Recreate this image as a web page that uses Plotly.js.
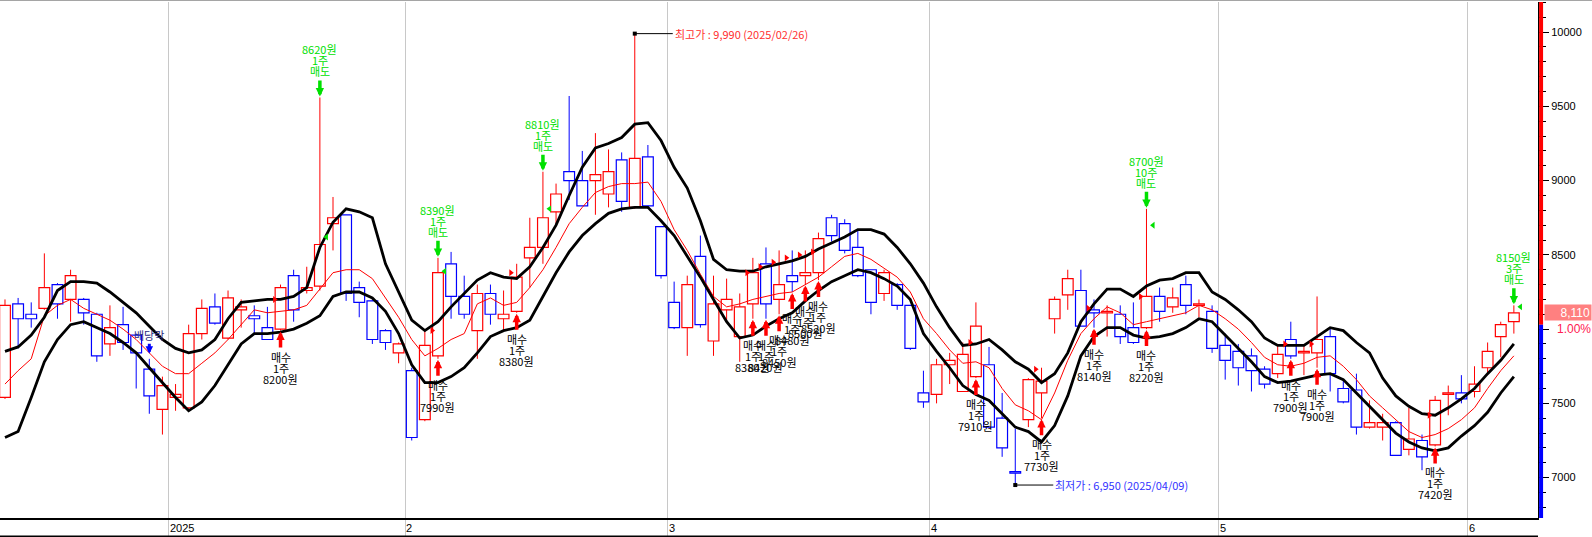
<!DOCTYPE html>
<html><head><meta charset="utf-8">
<script src="https://cdn.plot.ly/plotly-3.0.1.min.js"></script>
<style>html,body{margin:0;padding:0;background:#fff;}#chart{width:1592px;height:537px;}</style>
</head><body><div id="chart"></div>
<script>
const dates = [
"2024-12-11","2024-12-12","2024-12-13","2024-12-16","2024-12-17","2024-12-18","2024-12-19","2024-12-20","2024-12-23","2024-12-24","2024-12-26","2024-12-27","2024-12-30",
"2025-01-02","2025-01-03","2025-01-06","2025-01-07","2025-01-08","2025-01-09","2025-01-10","2025-01-13","2025-01-14","2025-01-15","2025-01-16","2025-01-17","2025-01-20","2025-01-21","2025-01-22","2025-01-23","2025-01-24","2025-01-31",
"2025-02-03","2025-02-04","2025-02-05","2025-02-06","2025-02-07","2025-02-10","2025-02-11","2025-02-12","2025-02-13","2025-02-14","2025-02-17","2025-02-18","2025-02-19","2025-02-20","2025-02-21","2025-02-24","2025-02-25","2025-02-26","2025-02-27","2025-02-28",
"2025-03-04","2025-03-05","2025-03-06","2025-03-07","2025-03-10","2025-03-11","2025-03-12","2025-03-13","2025-03-14","2025-03-17","2025-03-18","2025-03-19","2025-03-20","2025-03-21","2025-03-24","2025-03-25","2025-03-26","2025-03-27","2025-03-28","2025-03-31",
"2025-04-01","2025-04-02","2025-04-03","2025-04-04","2025-04-07","2025-04-08","2025-04-09","2025-04-10","2025-04-11","2025-04-14","2025-04-15","2025-04-16","2025-04-17","2025-04-18","2025-04-21","2025-04-22","2025-04-23","2025-04-24","2025-04-25","2025-04-28","2025-04-29","2025-04-30",
"2025-05-02","2025-05-07","2025-05-08","2025-05-09","2025-05-12","2025-05-13","2025-05-14","2025-05-15","2025-05-16","2025-05-19","2025-05-20","2025-05-21","2025-05-22","2025-05-23","2025-05-26","2025-05-27","2025-05-28","2025-05-29","2025-05-30",
"2025-06-02","2025-06-04","2025-06-05","2025-06-09"];

const openPrice = [
7540,8170,8100,8140,8300,8200,8200,8100,7900,8030,
7960,7730,7460,7540,7470,7970,8150,7940,8130,8090,
8010,8000,8360,8260,8290,8710,8770,8280,8190,7990,
7840,7720,7390,7820,8440,8220,7990,8240,8070,8120,
8480,8550,8790,9060,9000,9000,8910,9140,8820,9160,
8690,8180,8010,8490,7920,8130,7950,8170,8440,8200,
8360,8360,8380,8750,8710,8550,8400,8240,8300,8160,
7570,7560,7760,7580,7680,7760,7400,7040,7390,7570,
8070,8230,8260,8130,8110,8100,8010,8010,8220,8150,
8300,8160,8120,7890,7850,7820,7730,7700,7930,7840,
7840,7950,7600,7590,7340,7340,7370,7190,7250,7220,
7560,7570,7580,7740,7950,8050];
const highPrice = [
8200,8210,8180,8510,8310,8400,8210,8110,8160,8150,
7970,7800,7680,7630,8030,8200,8240,8260,8200,8160,
8150,8300,8400,8420,9560,8890,8770,8320,8200,8000,
7910,7740,7990,8480,8520,8360,8300,8300,8260,8440,
8750,9060,8980,9570,9200,9320,9210,9190,9990,9240,
8690,8320,8360,8630,8360,8340,8240,8480,8550,8530,
8530,8530,8650,8770,8740,8670,8400,8400,8310,8160,
7720,7800,7840,7910,8180,7880,7570,7330,7670,7740,
8220,8400,8400,8200,8160,8160,8180,8810,8280,8280,
8360,8200,8160,7970,7900,7870,7750,7900,8050,7900,
8220,8010,7660,7700,7520,7430,7380,7470,7290,7550,
7620,7690,7750,7910,8050,8160];
const lowPrice = [
7530,7870,8010,8130,8070,8050,8030,7780,7820,7860,
7600,7430,7290,7450,7450,7930,8030,7930,8010,7970,
7930,7990,8050,8240,8260,8530,8190,8080,7900,7860,
7770,7250,7380,7800,8070,8070,7800,8030,7990,8110,
8280,8440,8710,8870,8830,8770,8820,8790,8810,8810,
8340,8000,7820,8010,7820,8050,7780,8070,8070,8100,
8250,8300,8330,8590,8510,8350,8100,8190,8130,7860,
7470,7500,7630,7580,7670,7340,7140,6950,7340,7400,
7970,8130,8020,8010,7950,7900,7900,8000,8050,8110,
8100,8080,7840,7660,7620,7580,7600,7670,7800,7690,
7740,7580,7500,7290,7330,7250,7150,7150,7050,7210,
7420,7500,7540,7690,7810,7970];
const closePrice = [
8160,8070,8070,8280,8170,8360,8110,7820,8010,7910,
7840,7550,7620,7560,7970,8140,8040,8210,8150,8070,
7930,8280,8130,8280,8570,8750,8240,8180,7930,7910,
7900,7270,7890,8380,8220,8100,8240,8100,8100,8350,
8550,8750,8910,9000,8830,9040,9060,8860,9150,8830,
8360,8010,8300,8030,8170,8200,8150,8380,8170,8300,
8320,8380,8610,8630,8530,8360,8180,8380,8160,7870,
7510,7760,7790,7830,8020,7340,7200,7030,7660,7650,
8200,8340,8020,8110,8120,7950,7910,8220,8120,8210,
8160,8170,7870,7790,7740,7720,7630,7830,7820,7850,
7930,7700,7510,7340,7370,7370,7150,7260,7140,7520,
7570,7530,7630,7850,8030,8110];

const upperBand = [
7850,7880,7960,8080,8260,8320,8320,8310,8250,8180,
8110,8020,7930,7870,7840,7860,7930,8070,8180,8190,
8200,8200,8220,8280,8550,8720,8810,8790,8750,8440,
8250,8060,7990,8050,8150,8240,8330,8380,8350,8340,
8420,8550,8700,8900,9090,9220,9250,9290,9380,9390,
9270,9090,8950,8730,8470,8400,8390,8390,8420,8440,
8460,8490,8540,8580,8620,8670,8670,8640,8550,8440,
8310,8150,8010,7890,7900,7930,7860,7780,7730,7640,
7700,7840,8050,8170,8270,8270,8220,8290,8330,8340,
8380,8380,8250,8200,8130,8050,7940,7890,7890,7890,
7950,8010,7990,7910,7840,7670,7550,7480,7430,7420,
7470,7530,7600,7700,7790,7900];
const middleLine = [
7630,7720,7800,8090,8160,8200,8140,8100,8060,8000,
7930,7840,7750,7700,7700,7770,7840,7930,8030,8130,
8110,8120,8130,8160,8270,8380,8400,8400,8340,8210,
8080,7930,7820,7870,7930,7970,8170,8210,8160,8180,
8280,8400,8550,8710,8820,8920,8960,8980,8980,8990,
8860,8670,8530,8370,8220,8150,8170,8200,8220,8240,
8250,8300,8350,8420,8490,8510,8470,8410,8350,8250,
8070,7970,7860,7770,7780,7740,7600,7490,7450,7390,
7570,7790,7970,8070,8150,8110,8030,8050,8070,8090,
8110,8160,8130,8070,8000,7910,7810,7760,7750,7770,
7810,7820,7750,7660,7550,7470,7390,7310,7270,7290,
7330,7390,7470,7600,7720,7820];
const lowerBand = [
7270,7310,7540,7780,7930,8030,8050,8010,7970,7910,
7840,7740,7640,7540,7450,7510,7620,7760,7900,7970,
7970,7980,8000,8040,8090,8220,8250,8250,8210,8120,
7970,7760,7640,7640,7680,7740,7840,7950,7990,8010,
8060,8220,8380,8520,8630,8710,8780,8810,8820,8820,
8730,8630,8490,8350,8200,8050,7940,7960,8020,8070,
8110,8190,8260,8320,8360,8400,8380,8340,8290,8200,
7970,7850,7740,7620,7560,7520,7430,7340,7310,7240,
7350,7550,7820,7950,8010,8010,7960,7940,7950,7970,
8010,8070,8050,7960,7870,7780,7680,7640,7650,7670,
7690,7700,7660,7570,7480,7390,7300,7240,7200,7180,
7200,7280,7350,7440,7570,7680];

const buyIndex = [21,33,39,57,58,59,60,61,62,74,79,83,87,98,100,109];
const buyPrice = [8200,7990,8380,8380,8420,8450,8480,8500,8520,7910,7730,8140,8220,7900,7900,7420];
const buyQty   = [1,1,1,1,1,1,1,1,1,1,1,1,1,1,1,1];
const sellIndex = [24,33,41,87,115];
const sellPrice = [8620,8390,8810,8700,8150];
const sellQty   = [1,1,1,10,3];
const exDividendIndex = 11;
const exDividendLabel = '배당락';
const prevClose = 8030;
const yTickValues = [7000,7500,8000,8500,9000,9500,10000];
const yTickLabels = ['7000','7500','','8500','9000','9500','10000'];

const RED = '#ff0000', BLUE = '#0000ff', GREEN = '#00e000';
const KR = '"Noto Sans CJK KR", "Noto Sans", sans-serif';
const LAT = '"Liberation Sans", Arial, sans-serif';

const xs = dates.map((d, i) => i);
const monthStarts = [];
for (let i = 1; i < dates.length; i++) {
  if (dates[i].slice(5, 7) !== dates[i - 1].slice(5, 7)) monthStarts.push(i);
}
const monthTickLabels = monthStarts.map(i => {
  const m = parseInt(dates[i].slice(5, 7), 10);
  return m === 1 ? dates[i].slice(0, 4) : String(m);
});
const boundaries = monthStarts.map(i => i - 0.5);

const fmt = n => n.toLocaleString('en-US');
const hiIdx = highPrice.indexOf(Math.max(...highPrice));
const loIdx = lowPrice.indexOf(Math.min(...lowPrice));
const lastClose = closePrice[closePrice.length - 1];
const pct = ((lastClose - prevClose) / prevClose * 100).toFixed(2) + '%';
const slash = s => s.replace(/-/g, '/');

function candleGroup(up) {
  const g = {x: [], base: [], h: [], wx: [], wy: []};
  xs.forEach(i => {
    const o = openPrice[i], c = closePrice[i];
    if ((c >= o) !== up) return;
    const lo = Math.min(o, c), hi = Math.max(o, c);
    g.x.push(i); g.base.push(lo); g.h.push(Math.max(hi - lo, 4));
    g.wx.push(i, i, null, i, i, null);
    g.wy.push(lowPrice[i], lo, null, hi, highPrice[i], null);
  });
  return g;
}
const upG = candleGroup(true), dnG = candleGroup(false);

const traces = [
  {type: 'scatter', mode: 'lines', x: upG.wx, y: upG.wy, line: {color: RED, width: 1}, hoverinfo: 'skip'},
  {type: 'scatter', mode: 'lines', x: dnG.wx, y: dnG.wy, line: {color: BLUE, width: 1}, hoverinfo: 'skip'},
  {type: 'bar', x: upG.x, base: upG.base, y: upG.h, width: 0.82,
   marker: {color: '#ffffff', line: {color: RED, width: 1.2}}, hoverinfo: 'skip'},
  {type: 'bar', x: dnG.x, base: dnG.base, y: dnG.h, width: 0.82,
   marker: {color: '#ffffff', line: {color: BLUE, width: 1.2}}, hoverinfo: 'skip'},
  {type: 'scatter', mode: 'lines', x: xs, y: middleLine, line: {color: RED, width: 1}, hoverinfo: 'skip'},
  {type: 'scatter', mode: 'lines', x: xs, y: upperBand, line: {color: '#000000', width: 2.8}, hoverinfo: 'skip'},
  {type: 'scatter', mode: 'lines', x: xs, y: lowerBand, line: {color: '#000000', width: 2.8}, hoverinfo: 'skip'},
  {type: 'scatter', mode: 'markers', x: buyIndex.map(i => i - 0.45), y: buyPrice,
   marker: {symbol: 'triangle-right', size: 6, color: RED}, hoverinfo: 'skip'},
  {type: 'scatter', mode: 'markers', x: sellIndex.map(i => i + 0.5), y: sellPrice,
   marker: {symbol: 'triangle-left', size: 6, color: GREEN}, hoverinfo: 'skip'}
];

const annotations = [];
const ARROW = 17, PITCH = 11;
function stackedLabel(idx, yVal, lines, color, arrowColor, dir) {
  // dir = +1: text below the point (buy), -1: text above (sell)
  annotations.push({x: idx, y: yVal, xref: 'x', yref: 'y', text: lines[0],
    showarrow: true, arrowhead: 2, arrowsize: 0.48, arrowwidth: 3.5, arrowcolor: arrowColor,
    ax: 0, ay: dir * ARROW, standoff: 1, yanchor: dir > 0 ? 'top' : 'bottom', borderpad: 0,
    font: {family: KR, size: 11, color: color}});
  for (let k = 1; k < lines.length; k++) {
    annotations.push({x: idx, y: yVal, xref: 'x', yref: 'y', text: lines[k], showarrow: false,
      yanchor: dir > 0 ? 'top' : 'bottom', yshift: -dir * (ARROW + PITCH * k), borderpad: 0,
      font: {family: KR, size: 11, color: color}});
  }
}
buyIndex.forEach((idx, k) => {
  stackedLabel(idx, lowPrice[idx], ['매수', buyQty[k] + '주', buyPrice[k] + '원'], '#000000', RED, 1);
});
sellIndex.forEach((idx, k) => {
  stackedLabel(idx, highPrice[idx], ['매도', sellQty[k] + '주', sellPrice[k] + '원'], GREEN, GREEN, -1);
});
annotations.push({x: exDividendIndex, y: highPrice[exDividendIndex], xref: 'x', yref: 'y',
  text: exDividendLabel, showarrow: true, arrowhead: 2, arrowsize: 0.5, arrowwidth: 3,
  arrowcolor: BLUE, ax: 0, ay: -15, standoff: 5, yanchor: 'bottom', borderpad: 0,
  font: {family: KR, size: 11, color: '#2a2a80'}});
annotations.push({x: hiIdx, y: highPrice[hiIdx], xref: 'x', yref: 'y',
  text: '최고가 : ' + fmt(highPrice[hiIdx]) + ' (' + slash(dates[hiIdx]) + ')',
  showarrow: true, arrowhead: 7, arrowsize: 1, arrowwidth: 1, arrowcolor: '#000000',
  ax: 38, ay: 0, xanchor: 'left', yanchor: 'middle',
  font: {family: KR, size: 11, color: '#ff3030'}});
annotations.push({x: loIdx, y: lowPrice[loIdx], xref: 'x', yref: 'y',
  text: '최저가 : ' + fmt(lowPrice[loIdx]) + ' (' + slash(dates[loIdx]) + ')',
  showarrow: true, arrowhead: 7, arrowsize: 1, arrowwidth: 1, arrowcolor: '#000000',
  ax: 38, ay: 0, xanchor: 'left', yanchor: 'middle',
  font: {family: KR, size: 11, color: '#3333ff'}});
boundaries.forEach((b, k) => {
  annotations.push({x: b, y: 0, xref: 'x', yref: 'paper', text: monthTickLabels[k],
    showarrow: false, xanchor: 'left', yanchor: 'top', yshift: -2, xshift: -1,
    font: {family: LAT, size: 11, color: '#000'}});
});
annotations.push({x: 1, y: lastClose, xref: 'paper', yref: 'y', text: fmt(lastClose),
  showarrow: false, xanchor: 'left', yanchor: 'middle', xshift: 6, width: 44, height: 13,
  align: 'right', bgcolor: '#ff8080',
  font: {family: LAT, size: 12, color: '#ffffff'}});
annotations.push({x: 1, y: lastClose, xref: 'paper', yref: 'y', text: pct,
  showarrow: false, xanchor: 'left', yanchor: 'top', xshift: 17, yshift: -7,
  font: {family: LAT, size: 12, color: '#ff2050'}});

const yMin = 6728, yMax = 10203;
const shapes = [
  {type: 'line', xref: 'paper', yref: 'y', x0: 1.002, x1: 1.002, y0: prevClose, y1: yMax, line: {color: RED, width: 4}},
  {type: 'line', xref: 'paper', yref: 'y', x0: 1.002, x1: 1.002, y0: yMin, y1: prevClose, line: {color: BLUE, width: 4}},
  {type: 'line', xref: 'paper', yref: 'paper', x0: 0, x1: 1, y0: -0.0355, y1: -0.0355, line: {color: '#000000', width: 1.5}},
  {type: 'line', xref: 'paper', yref: 'paper', x0: 0, x1: 1.04, y0: 1.003, y1: 1.003, line: {color: '#a0a0a0', width: 1}}
];

const layout = {
  width: 1592, height: 537,
  margin: {l: 0, r: 54, t: 2, b: 19},
  paper_bgcolor: '#ffffff', plot_bgcolor: '#ffffff',
  showlegend: false, barmode: 'overlay', hovermode: false,
  xaxis: {type: 'linear', range: [-0.38, 116.84], tickvals: boundaries, ticktext: boundaries.map(() => ''),
    showgrid: true, gridcolor: '#c8c8c8', gridwidth: 1, ticks: 'outside', ticklen: 18, tickcolor: '#c8c8c8',
    showline: true, linecolor: '#000000', linewidth: 2, zeroline: false, fixedrange: true},
  yaxis: {side: 'right', range: [yMin, yMax], tickmode: 'array', tickvals: yTickValues, ticktext: yTickLabels,
    ticks: 'outside', ticklen: 10, tickcolor: '#000000', showgrid: false, zeroline: false,
    showline: true, linecolor: '#000000', linewidth: 1,
    tickfont: {family: LAT, size: 11, color: '#000000'},
    minor: {tickmode: 'linear', dtick: 100, tick0: 0, ticks: 'outside', ticklen: 7, tickcolor: '#000000', showgrid: false}, fixedrange: true},
  annotations: annotations, shapes: shapes
};

Plotly.newPlot('chart', traces, layout, {displayModeBar: false, staticPlot: true});
</script></body></html>
